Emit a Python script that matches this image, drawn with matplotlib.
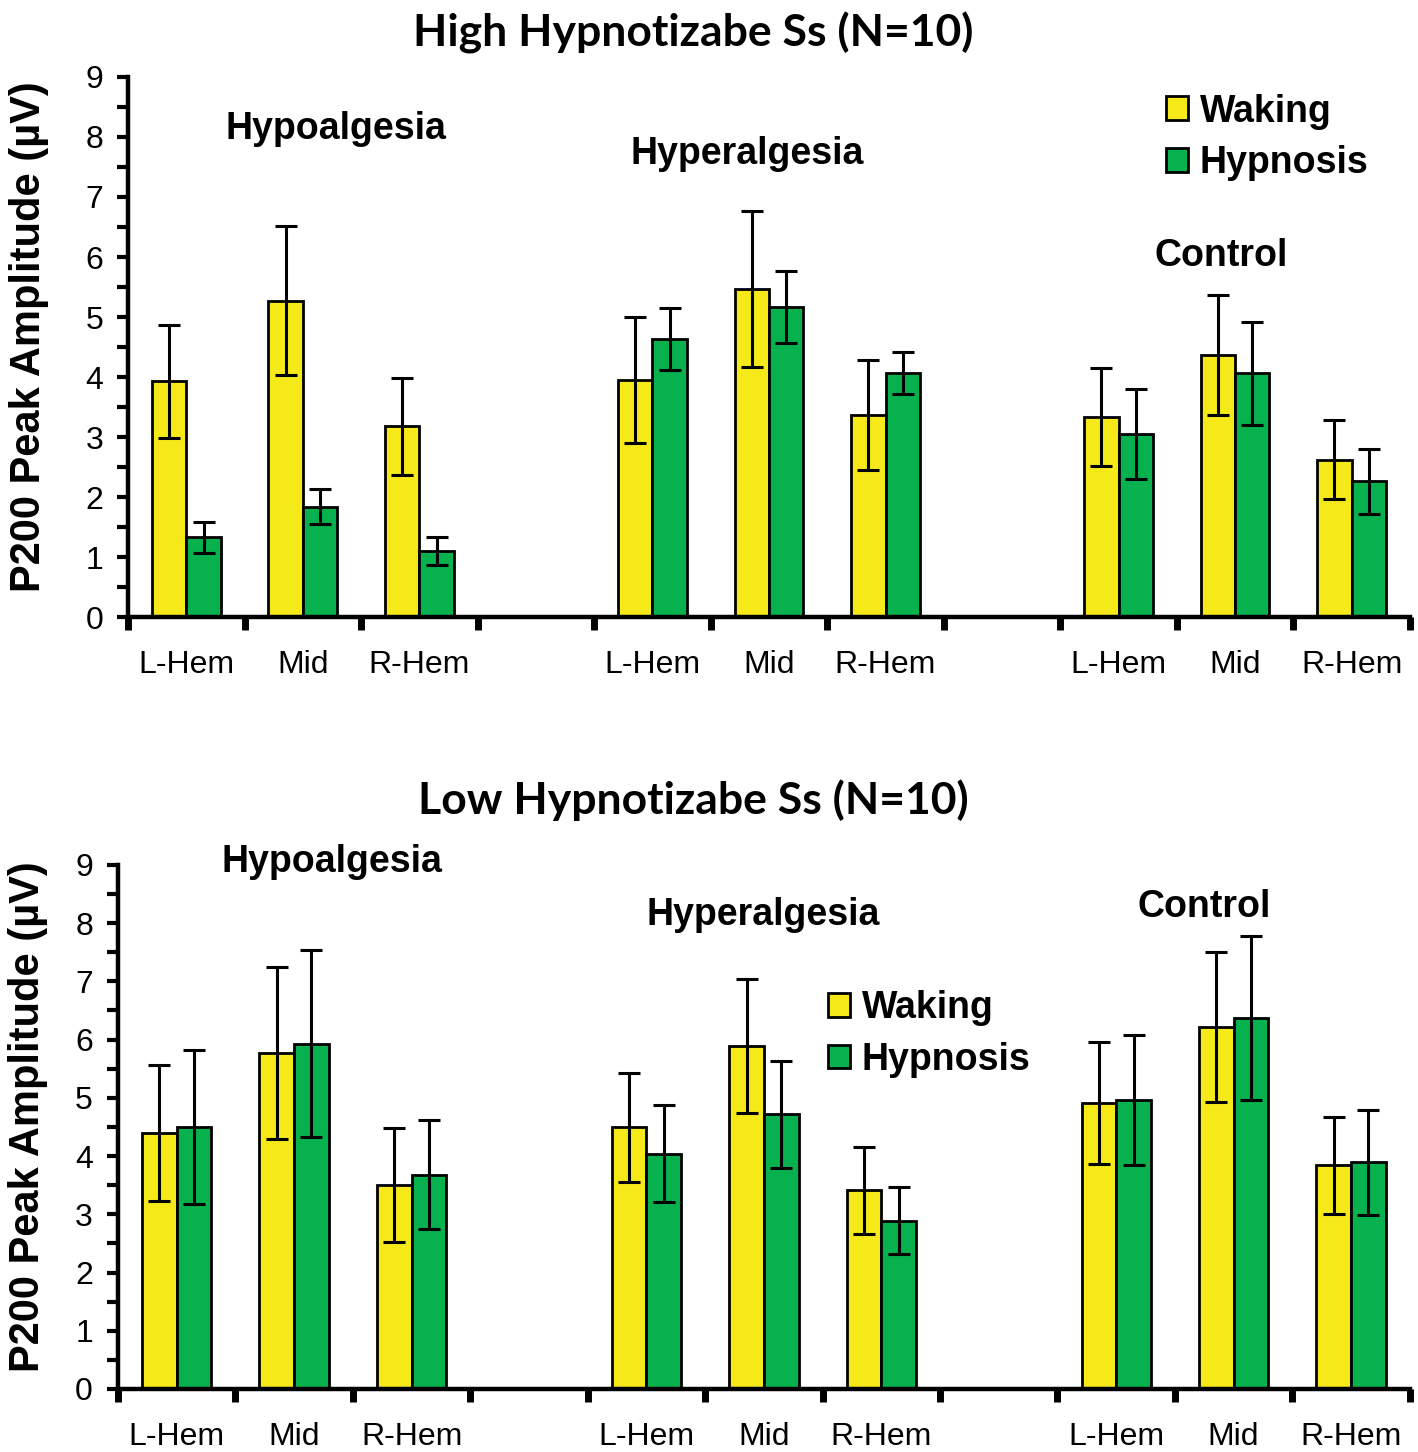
import numpy as np
import matplotlib
matplotlib.use("Agg")
import matplotlib.pyplot as plt
from matplotlib.ticker import MultipleLocator, FixedLocator, NullFormatter
from matplotlib.patches import Patch

# Electrode sites within each condition block
sites = ["L-Hem", "Mid", "R-Hem"]
conditions = ["Hypoalgesia", "Hyperalgesia", "Control"]

# High hypnotizable subjects: means and SE (µV), ordered Hypo L/M/R, Hyper L/M/R, Control L/M/R
high_waking = [3.93, 5.27, 3.18, 3.95, 5.47, 3.37, 3.33, 4.36, 2.62]
high_waking_err = [0.94, 1.24, 0.81, 1.05, 1.30, 0.92, 0.82, 1.00, 0.66]
high_hypnosis = [1.33, 1.84, 1.10, 4.63, 5.16, 4.07, 3.05, 4.06, 2.26]
high_hypnosis_err = [0.26, 0.29, 0.24, 0.52, 0.60, 0.35, 0.75, 0.86, 0.54]

# Low hypnotizable subjects
low_waking = [4.39, 5.77, 3.50, 4.49, 5.89, 3.41, 4.91, 6.22, 3.84]
low_waking_err = [1.17, 1.48, 0.98, 0.93, 1.15, 0.75, 1.05, 1.29, 0.83]
low_hypnosis = [4.50, 5.93, 3.68, 4.04, 4.72, 2.89, 4.96, 6.37, 3.89]
low_hypnosis_err = [1.32, 1.60, 0.93, 0.83, 0.92, 0.57, 1.12, 1.40, 0.90]

YELLOW = "#F5E91A"
GREEN = "#07B14D"

plt.rcParams["font.family"] = ["Liberation Sans", "DejaVu Sans"]

fig = plt.figure(figsize=(14.18, 14.52), dpi=100)


def slot_positions():
    # three sites per block, with two empty slots separating blocks
    pos = []
    for b in range(3):
        for s in range(3):
            pos.append(b * 4 + s + 0.5)
    return np.array(pos)


def draw_panel(rect, title, title_xy, waking, waking_err, hyp, hyp_err,
               label_pos, legend_anchor, ylabel_x):
    ax = fig.add_axes(rect)
    x = slot_positions()
    w = 0.295
    ax.bar(x - w / 2, waking, width=w, color=YELLOW, edgecolor="black",
           linewidth=2.0, zorder=2)
    ax.bar(x + w / 2, hyp, width=w, color=GREEN, edgecolor="black",
           linewidth=2.0, zorder=2)
    ax.errorbar(x - w / 2, waking, yerr=waking_err, fmt="none", ecolor="black",
                elinewidth=2.2, capsize=8, capthick=2.2, zorder=3)
    ax.errorbar(x + w / 2, hyp, yerr=hyp_err, fmt="none", ecolor="black",
                elinewidth=2.2, capsize=8, capthick=2.2, zorder=3)

    ax.set_xlim(0, 11)
    ax.set_ylim(0, 9)
    for side in ("top", "right"):
        ax.spines[side].set_visible(False)
    for side in ("left", "bottom"):
        ax.spines[side].set_linewidth(3.2)

    # x axis: tick marks at slot boundaries, site labels centred in slots
    ax.xaxis.set_major_locator(FixedLocator(np.arange(0, 12)))
    ax.xaxis.set_major_formatter(NullFormatter())
    ax.xaxis.set_minor_locator(FixedLocator(x))
    ax.set_xticklabels(sites * 3, minor=True)
    ax.tick_params(axis="x", which="major", direction="out", length=9, width=5)
    ax.tick_params(axis="x", which="minor", length=0, pad=24, labelsize=23)

    ax.yaxis.set_major_locator(MultipleLocator(1))
    ax.yaxis.set_minor_locator(MultipleLocator(0.5))
    ax.tick_params(axis="y", which="major", direction="out", length=8, width=3,
                   labelsize=23, pad=10)
    ax.tick_params(axis="y", which="minor", direction="out", length=8, width=3)
    ax.set_ylabel("P200 Peak Amplitude (µV)", fontsize=30, fontweight="bold")
    ax.yaxis.set_label_coords(ylabel_x, 0.52)

    for name, (cx, cy) in zip(conditions, label_pos):
        ax.text(cx, cy, name, ha="center", va="center", fontsize=27,
                fontweight="bold")

    handles = [Patch(facecolor=YELLOW, edgecolor="black", linewidth=2, label="Waking"),
               Patch(facecolor=GREEN, edgecolor="black", linewidth=2, label="Hypnosis")]
    ax.legend(handles=handles, loc="upper left", bbox_to_anchor=legend_anchor,
              frameon=False, prop={"size": 27, "weight": "bold"},
              handlelength=0.6, handleheight=0.6, handletextpad=0.3,
              labelspacing=0.42, borderaxespad=0)

    fig.text(title_xy[0], title_xy[1], title, ha="center", va="center",
             fontsize=32, fontweight="bold", family=["Lato", "DejaVu Sans"])
    return ax


draw_panel([0.0903, 0.575, 0.904, 0.372], "High Hypnotizabe Ss (N=10)",
           (0.489, 0.977),
           high_waking, high_waking_err, high_hypnosis, high_hypnosis_err,
           [(1.78, 8.13), (5.31, 7.72), (9.38, 6.02)], (0.798, 0.997), -0.062)

draw_panel([0.0832, 0.0434, 0.911, 0.361], "Low Hypnotizabe Ss (N=10)",
           (0.489, 0.449),
           low_waking, low_waking_err, low_hypnosis, low_hypnosis_err,
           [(1.82, 9.04), (5.49, 8.13), (9.25, 8.27)], (0.538, 0.79), -0.054)

fig.savefig("out.png", dpi=100)
